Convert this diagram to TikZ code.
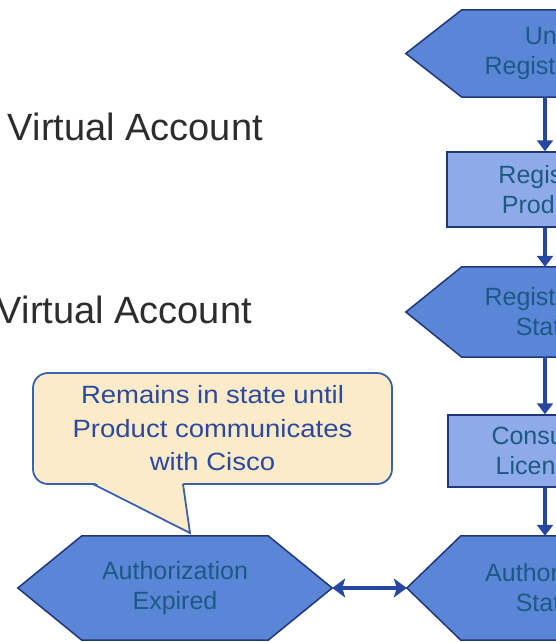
\documentclass[tikz,border=0pt]{standalone}
\usepackage{fontspec}
\setmainfont{Liberation Sans}
\newfontfamily\calloutfont[FakeStretch=1.1]{Liberation Sans}
\usetikzlibrary{arrows.meta}
\pgfdeclarelayer{bg}
\pgfsetlayers{bg,main}
\definecolor{hexfill}{RGB}{91,133,214}
\definecolor{hexline}{RGB}{32,56,120}
\definecolor{rectfill}{RGB}{143,170,232}
\definecolor{boxtext}{RGB}{28,90,133}
\definecolor{arrowcol}{RGB}{38,72,160}
\definecolor{notefill}{RGB}{252,235,200}
\definecolor{noteline}{RGB}{60,95,174}
\definecolor{notetext}{RGB}{44,73,160}
\definecolor{labeltext}{RGB}{45,45,45}
\newcommand\hexpath[2]{%
  \draw[hexshape] ([xshift=#2pt]#1.north west) -- ([xshift=-#2pt]#1.north east) -- (#1.east)
    -- ([xshift=-#2pt]#1.south east) -- ([xshift=#2pt]#1.south west) -- (#1.west) -- cycle;}
\tikzset{
  hexshape/.style={fill=hexfill, draw=hexline, line width=1.5pt, line join=miter},
  hexnode/.style={inner sep=0pt, align=center, text=boxtext, font=\fontsize{25}{30}\selectfont},
  rectnode/.style={hexnode, fill=rectfill, draw=hexline, line width=1.5pt},
  flow/.style={-{Triangle[width=16pt,length=11pt]}, line width=3.5pt, draw=arrowcol},
  biflow/.style={{Stealth[width=19pt,length=13pt,inset=3pt]}-{Stealth[width=19pt,length=13pt,inset=3pt]}, line width=4.5pt, draw=arrowcol},
  label/.style={inner sep=0pt, text=labeltext, font=\fontsize{38}{40}\selectfont, anchor=base east},
  notebox/.style={fill=notefill, draw=noteline, line width=1.8pt, rounded corners=15pt, inner sep=0pt,
    align=center, text=notetext, font=\calloutfont\fontsize{25}{33.5}\selectfont}
}
\begin{document}
\begin{tikzpicture}[x=1pt,y=-1pt]
\useasboundingbox (0,0) rectangle (556,642);
\clip (0,0) rectangle (556,642);

% left labels
\node[label] (va1) at (263,140) {Virtual Account};
\node[label] (va2) at (252,323) {Virtual Account};

% right column
\node[hexnode, minimum width=278pt, minimum height=87pt] (unreg) at (545,53.5) {Un-\\Registered};
\node[rectnode, minimum width=196pt, minimum height=75pt] (regprod) at (545,189.5) {Register\\Product};
\node[hexnode, minimum width=278pt, minimum height=90pt] (regstate) at (545,312) {Registered\\State};
\node[rectnode, minimum width=194pt, minimum height=72pt] (consume) at (545,451) {Consume\\Licenses};
\node[hexnode, minimum width=276pt, minimum height=104pt] (authstate) at (545,588) {Authorized\\State};

% bottom left
\node[hexnode, minimum width=314pt, minimum height=104pt] (authexp) at (175,588) {Authorization\\Expired};

\begin{pgfonlayer}{bg}
\fill[white] (0,0) rectangle (556,642);
\hexpath{unreg}{56}
\hexpath{regstate}{56}
\hexpath{authstate}{54}
\hexpath{authexp}{64}
\end{pgfonlayer}

% connectors
\draw[flow] (unreg.south) -- (regprod.north);
\draw[flow] (regprod.south) -- (regstate.north);
\draw[flow] (regstate.south) -- (consume.north);
\draw[flow] (consume.south) -- (authstate.north);
\draw[biflow] (authexp.east) -- (authstate.west);

% callout
\node[notebox, minimum width=359pt, minimum height=111pt] (note) at (212.5,428.5)
  {Remains in state until\\Product communicates\\with Cisco};
\coordinate (tailL) at (93,484);
\coordinate (tailR) at (183,484);
\coordinate (tailtip) at (190,533);
\fill[notefill] ([yshift=2pt]tailL) -- ([yshift=2pt]tailR) -- (tailtip) -- cycle;
\draw[noteline, line width=1.8pt, line join=miter] (tailL) -- (tailtip) -- (tailR);
\end{tikzpicture}
\end{document}
